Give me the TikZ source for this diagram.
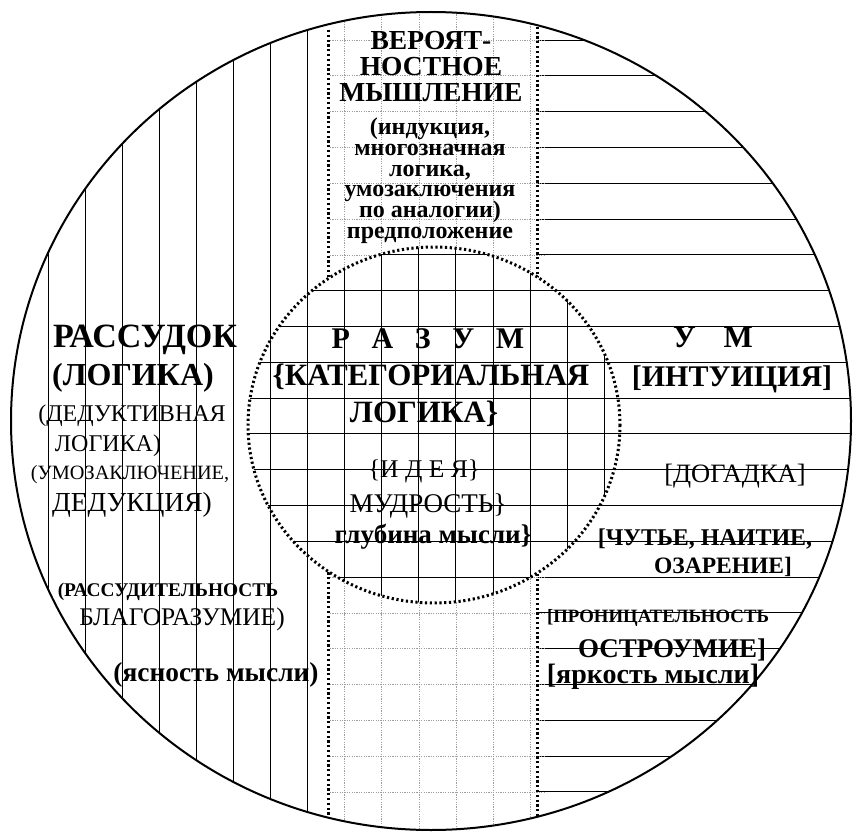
\documentclass[tikz,border=0pt]{standalone}
\usepackage{fontspec}
\setmainfont{Liberation Serif}
\newcommand{\fsz}[1]{\rmfamily\fontsize{#1}{#1}\selectfont}

\begin{document}
\begin{tikzpicture}[x=1pt,y=-1pt,
    gridline/.style={black,line width=0.9pt},
    faintline/.style={gray!75,line width=0.6pt,dash pattern=on 1.2pt off 1.2pt},
    dotline/.style={black,line width=3pt,dash pattern=on 2.2pt off 2.6pt},
    word/.style={inner sep=0pt,anchor=base}]

    % Define the geometry
    \def\cx{431} \def\cy{421} \def\rx{420} \def\ry{409}
    \def\ix{434} \def\iy{425} \def\irx{186} \def\iry{178}
    \def\dx{37.08} \def\dy{35.8}

    \useasboundingbox (0,0) rectangle (857,832);

    % Lines inside the big circle
    \begin{scope}
        \clip (\cx,\cy) ellipse [x radius=\rx, y radius=\ry];
        % vertical lines on the left
        \foreach \k in {0,...,7}
            \draw[gridline] ({48+\k*\dx},0) -- ({48+\k*\dx},832);
        % horizontal lines on the right
        \foreach \j in {0,...,21}
            \draw[gridline] (537,{40+\j*\dy}) -- (857,{40+\j*\dy});
        % faint grid of the middle strip
        \foreach \k in {8,...,13}
            \draw[faintline] ({48+\k*\dx},0) -- ({48+\k*\dx},832);
        \foreach \j in {0,...,21}
            \draw[faintline] (330,{40+\j*\dy}) -- (545,{40+\j*\dy});
        % borders of the strip
        \draw[dotline] (328,30) -- (328,832);
        \draw[dotline] (537,22) -- (537,832);
    \end{scope}

    % Grid inside the small circle
    \fill[white] (\ix,\iy) ellipse [x radius=\irx, y radius=\iry];
    \begin{scope}
        \clip (\ix,\iy) ellipse [x radius=\irx, y radius=\iry];
        \foreach \k in {0,...,15}
            \draw[gridline] ({48+\k*\dx},0) -- ({48+\k*\dx},832);
        \foreach \j in {0,...,21}
            \draw[gridline] (0,{40+\j*\dy}) -- (857,{40+\j*\dy});
    \end{scope}

    % Draw the circles
    \draw[dotline] (\ix,\iy) ellipse [x radius=\irx, y radius=\iry];
    \draw[line width=2pt] (\cx,\cy) ellipse [x radius=\rx, y radius=\ry];

    % Top strip
    \foreach \t [count=\i] in {ВЕРОЯТ-,НОСТНОЕ,МЫШЛЕНИЕ}
        \node[word,font=\fsz{27.5}\bfseries] (ver\i) at (431,{24+26*\i}) {\t};
    \foreach \t [count=\i] in {{(индукция,},многозначная,{логика,},умозаключения,{по аналогии)},предположение}
        \node[word,font=\fsz{24}\bfseries] (ind\i) at (430,{114.4+20.6*\i}) {\t};

    % Left part
    \node[word,font=\fsz{34}\bfseries] (rassudok) at (145,347) {РАССУДОК};
    \node[word,font=\fsz{32}\bfseries] (logika) at (133,385) {(ЛОГИКА)};
    \node[word,font=\fsz{24}] (deduktiv) at (132,421) {(ДЕДУКТИВНАЯ};
    \node[word,font=\fsz{24}] (logika2) at (108,451) {ЛОГИКА)};
    \node[word,font=\fsz{20.3}] (umozakl) at (130,479) {(УМОЗАКЛЮЧЕНИЕ,};
    \node[word,font=\fsz{27.5}] (dedukc) at (132,511) {ДЕДУКЦИЯ)};
    \node[word,font=\fsz{19.4}\bfseries] (rassudit) at (168,596) {(РАССУДИТЕЛЬНОСТЬ};
    \node[word,font=\fsz{25.4}] (blagor) at (182,625) {БЛАГОРАЗУМИЕ)};
    \node[word,font=\fsz{27.4}\bfseries] (yasnost) at (216,681) {(ясность мысли)};

    % Middle part
    \node[word,font=\fsz{30}\bfseries] (razum) at (428,348) {Р\hspace{.72em}А\hspace{.72em}З\hspace{.72em}У\hspace{.72em}М};
    \node[word,font=\fsz{31}\bfseries] (kateg) at (431,385) {\{КАТЕГОРИАЛЬНАЯ};
    \node[word,font=\fsz{31}\bfseries] (logika3) at (424,422) {ЛОГИКА\}};
    \node[word,font=\fsz{25.5}] (ideya) at (424,477) {\{И Д Е Я\}};
    \node[word,font=\fsz{27}] (mudrost) at (428,512) {МУДРОСТЬ\}};
    \node[word,font=\fsz{27}\bfseries] (glubina) at (433,543) {глубина мысли\}};

    % Right part
    \node[word,font=\fsz{31}\bfseries] (um) at (713,347) {У\hspace{.9em}М};
    \node[word,font=\fsz{30}\bfseries] (intuic) at (732,386) {[ИНТУИЦИЯ]};
    \node[word,font=\fsz{26.5}] (dogadka) at (735,482) {[ДОГАДКА]};
    \node[word,font=\fsz{24}\bfseries] (chutye) at (705,545) {[ЧУТЬЕ, НАИТИЕ,};
    \node[word,font=\fsz{23.5}\bfseries] (ozarenie) at (723,573) {ОЗАРЕНИЕ]};
    \node[word,font=\fsz{18.8}\bfseries] (pronic) at (658,622) {[ПРОНИЦАТЕЛЬНОСТЬ};
    \node[word,font=\fsz{27}\bfseries] (ostroum) at (672,657) {ОСТРОУМИЕ]};
    \node[word,font=\fsz{28}\bfseries] (yarkost) at (653,683) {[яркость мысли]};

\end{tikzpicture}
\end{document}
